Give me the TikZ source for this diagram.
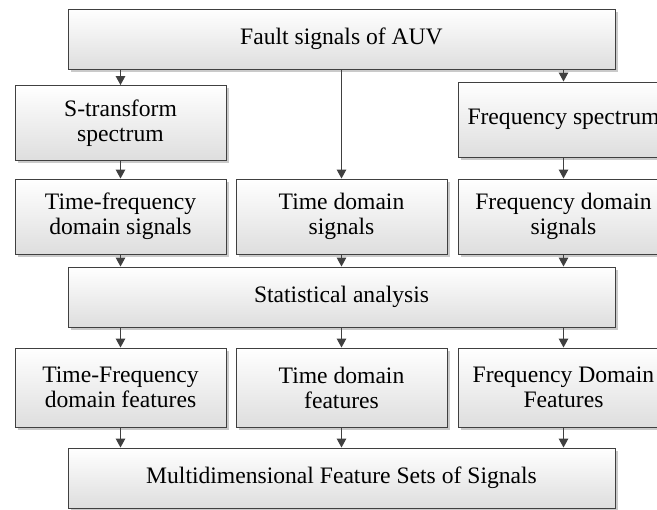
\documentclass[tikz,border=0pt]{standalone}
\usepackage{fontspec}
\setmainfont{Liberation Serif}
\usetikzlibrary{shadows,arrows.meta}

\begin{document}
\begin{tikzpicture}[x=0.5pt,y=-0.5pt,
  box/.style={draw=black!75,line width=0.5pt,top color=white,bottom color=black!13,
    drop shadow={shadow xshift=1.3pt,shadow yshift=-1.3pt,opacity=0.35,fill=black!60},
    align=center,font=\fontsize{11.8}{12.5}\selectfont,inner sep=0pt},
  wide/.style={box,minimum width=273.5pt,minimum height=30pt},
  col/.style={box,minimum width=105.5pt,minimum height=37.5pt},
  arr/.style={draw=black!75,line width=0.5pt,-{Triangle[length=4.5pt,width=4.8pt]}}]
\useasboundingbox (0,0) rectangle (657,509);
\clip (0,0) rectangle (657,509);
\node (fault) [wide] at (341.5,39) {Fault signals of AUV};
\node (stft) [col] at (120.5,123) {S-transform\\spectrum};
\node (fspec) [col] at (563.5,119.5) {Frequency spectrum};
\node (tfsig) [col] at (120.5,216.5) {Time-frequency\\domain signals};
\node (tsig) [col] at (341.5,216.5) {Time domain\\signals};
\node (fsig) [col] at (563.5,216.5) {Frequency domain\\signals};
\node (stat) [wide] at (341.5,297) {Statistical analysis};
\node (tffeat) [col,minimum height=39.5pt] at (120.5,387.5) {Time-Frequency\\domain features};
\node (tfeat) [col,minimum height=39.5pt] at (341.5,387.5) {Time domain\\features};
\node (ffeat) [col,minimum height=39.5pt] at (563.5,387.5) {Frequency Domain\\Features};
\node (multi) [wide] at (341.5,478) {Multidimensional Feature Sets of Signals};
\draw[arr] (fault.south -| stft.north) -- (stft.north);
\draw[arr] (fault.south) -- (tsig.north);
\draw[arr] (fault.south -| fspec.north) -- (fspec.north);
\draw[arr] (stft) -- (tfsig);
\draw[arr] (fspec) -- (fsig);
\foreach \n in {tfsig,tsig,fsig}
  \draw[arr] (\n.south) -- (stat.north -| \n.south);
\foreach \n in {tffeat,tfeat,ffeat} {
  \draw[arr] (stat.south -| \n.north) -- (\n.north);
  \draw[arr] (\n.south) -- (multi.north -| \n.south);
}
\end{tikzpicture}
\end{document}
